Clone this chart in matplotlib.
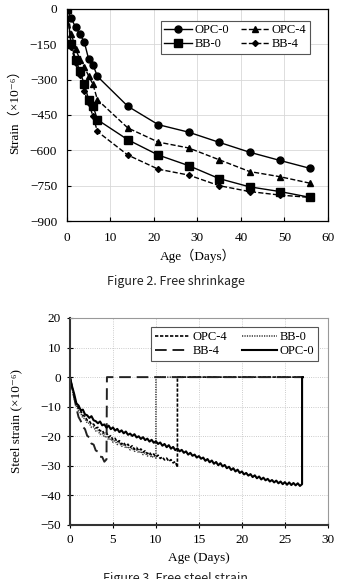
import numpy as np
import matplotlib
matplotlib.use('Agg')
import matplotlib.pyplot as plt

plt.rcParams['font.family'] = ['Liberation Serif', 'DejaVu Serif', 'Noto Sans CJK KR']

# ---- Figure 2 data: free shrinkage ----
days = [0, 1, 2, 3, 4, 5, 6, 7, 14, 21, 28, 35, 42, 49, 56]
opc0 = [0, -40, -78, -107, -141, -213, -237, -286, -413, -491, -523, -566, -608, -643, -677]
opc4 = [0, -105, -170, -215, -245, -285, -320, -385, -505, -565, -590, -640, -690, -712, -740]
bb0 = [0, -150, -215, -265, -320, -385, -410, -470, -555, -620, -665, -720, -755, -775, -800]
bb4 = [0, -160, -230, -280, -350, -400, -455, -520, -620, -680, -705, -750, -775, -790, -800]

# ---- Figure 3 data: steel strain, sampled every 0.25 day ----
dt = 0.25
end_day = 27.1
s_opc0 = [0, -3.2, -5.8, -8.9, -9.6, -11.2, -11.0, -12.6, -12.9, -13.8, -13.2, -14.6, -14.9,
          -15.6, -15.0, -16.3, -16.0, -17.1, -16.4, -17.6, -17.0, -18.1, -17.5, -18.6, -18.0,
          -19.0, -18.4, -19.5, -19.1, -19.9, -19.3, -20.4, -20.0, -20.9, -20.3, -21.3, -20.8,
          -21.8, -21.2, -22.2, -21.7, -22.6, -22.1, -23.2, -22.6, -23.7, -23.0, -24.2, -23.6,
          -24.7, -24.1, -25.1, -24.6, -25.6, -25.1, -26.2, -25.6, -26.6, -26.2, -27.2, -26.7,
          -27.6, -27.2, -28.3, -27.7, -28.8, -28.2, -29.3, -28.7, -29.8, -29.1, -30.2, -29.7,
          -30.8, -30.3, -31.4, -30.8, -31.9, -31.3, -32.4, -31.9, -32.9, -32.4, -33.3, -32.8,
          -33.8, -33.2, -34.2, -33.6, -34.6, -34.0, -34.9, -34.4, -35.3, -34.8, -35.6, -35.0,
          -35.9, -35.3, -36.2, -35.5, -36.4, -35.6, -36.5, -35.8, -36.6, -35.9, -36.8, -36.2]
s_opc4 = [0, -3.5, -6.5, -9.0, -10.6, -11.4, -12.9, -13.3, -14.6, -14.8, -16.0, -15.9, -17.2,
          -17.0, -18.2, -18.0, -19.2, -18.8, -20.3, -19.8, -21.2, -20.7, -22.0, -21.5, -22.7,
          -22.1, -23.3, -22.7, -23.8, -23.2, -24.4, -23.8, -24.9, -24.3, -25.4, -24.9, -25.9,
          -25.4, -26.5, -26.0, -27.0, -26.4, -27.5, -27.0, -28.0, -27.4, -28.5, -27.9, -29.0,
          -28.6, -30.5]
s_bb0 = [0, -4.0, -7.2, -9.8, -11.5, -12.2, -13.8, -14.1, -15.5, -15.6, -17.0, -16.8, -18.2,
         -18.0, -19.4, -19.0, -20.3, -19.9, -21.2, -20.8, -22.0, -21.5, -22.8, -22.2, -23.4,
         -22.9, -24.0, -23.5, -24.6, -24.0, -25.1, -24.6, -25.6, -25.1, -26.2, -25.6, -26.7,
         -26.1, -27.2, -26.6, -27.4]
s_bb4 = [0, -3.8, -7.0, -10.5, -13.5, -14.8, -16.8, -17.6, -19.8, -20.4, -22.5, -22.8, -24.8,
         -25.2, -26.9, -27.0, -28.6, -27.8]
fail_day = {'OPC-0': 27.0, 'OPC-4': 12.5, 'BB-0': 10.0, 'BB-4': 4.3}


def steel_line(vals, name):
    t = np.arange(len(vals)) * dt
    x = np.concatenate([t, [fail_day[name], end_day]])
    y = np.concatenate([vals, [0, 0]])
    return x, y


fig = plt.figure(figsize=(3.38, 5.79), dpi=100)

# ---------------- top panel ----------------
ax1 = fig.add_axes([0.198, 0.6183, 0.772, 0.3662])
l1, = ax1.plot(days, opc0, '-', color='black', lw=1, marker='o', ms=5, label='OPC-0')
l2, = ax1.plot(days, opc4, '--', color='black', lw=1, marker='^', ms=4.5, label='OPC-4')
l3, = ax1.plot(days, bb0, '-', color='black', lw=1, marker='s', ms=5.5, label='BB-0')
l4, = ax1.plot(days, bb4, '--', color='black', lw=1, marker='D', ms=3, label='BB-4')
ax1.set_xlim(0, 60)
ax1.set_ylim(-900, 0)
ax1.set_xticks(range(0, 61, 10))
ax1.set_yticks(range(-900, 1, 150))
ax1.grid(True, color='#d8d8d8', lw=0.6)
ax1.set_axisbelow(True)
ax1.tick_params(direction='in', labelsize=9.5, length=3)
ax1.tick_params(axis='x', pad=8)
ax1.tick_params(axis='y', pad=7)
for s in ax1.spines.values():
    s.set_linewidth(0.9)
ax1.set_xlabel('Age（Days）', fontsize=9.5, labelpad=3)
ax1.set_ylabel('Strain（×10⁻⁶）', fontsize=9.5)
ax1.yaxis.set_label_coords(-0.176, 0.53)
leg1 = ax1.legend(handles=[l1, l3, l2, l4], ncol=2, loc='upper right',
                  bbox_to_anchor=(0.955, 0.975), fontsize=9, frameon=True, fancybox=False,
                  edgecolor='#555555', framealpha=1, handlelength=2.2, handletextpad=0.2,
                  columnspacing=1.0, labelspacing=0.15, borderpad=0.3)
leg1.get_frame().set_linewidth(0.8)
fig.text(0.52, 1 - 281 / 579, 'Figure 2. Free shrinkage', ha='center', va='center',
         fontsize=9, family=['Noto Sans CJK KR', 'DejaVu Sans'], color='#222222')

# ---------------- bottom panel ----------------
ax2 = fig.add_axes([0.207, 0.0933, 0.763, 0.3575])
x, y = steel_line(s_opc4, 'OPC-4')
m1, = ax2.plot(x, y, color='black', lw=1.2, dashes=(2, 1), label='OPC-4')
x, y = steel_line(s_bb0, 'BB-0')
m2, = ax2.plot(x, y, color='#333333', lw=1.1, dashes=(0.8, 0.8), label='BB-0')
x, y = steel_line(s_bb4, 'BB-4')
m3, = ax2.plot(x, y, color='#222222', lw=1.4, dashes=(6, 3), label='BB-4')
x, y = steel_line(s_opc0, 'OPC-0')
m4, = ax2.plot(x, y, color='black', lw=1.5, label='OPC-0')
ax2.set_xlim(0, 30)
ax2.set_ylim(-50, 20)
ax2.set_xticks(range(0, 31, 5))
ax2.set_yticks(range(-50, 21, 10))
ax2.grid(True, color='#bbbbbb', lw=0.6, ls=':')
ax2.set_axisbelow(True)
ax2.tick_params(direction='inout', labelsize=9.5, length=5, pad=4)
ax2.spines['left'].set_linewidth(1.5)
ax2.spines['bottom'].set_linewidth(1.5)
ax2.spines['left'].set_color('#333333')
ax2.spines['bottom'].set_color('#333333')
ax2.spines['top'].set_color('#999999')
ax2.spines['right'].set_color('#999999')
ax2.set_xlabel('Age (Days)', fontsize=9.5, labelpad=4)
ax2.set_ylabel('Steel strain (×10⁻⁶)', fontsize=9.5)
ax2.yaxis.set_label_coords(-0.186, 0.5)
leg2 = ax2.legend(handles=[m1, m3, m2, m4], ncol=2, loc='upper right',
                  bbox_to_anchor=(0.985, 0.985), fontsize=9, frameon=True, fancybox=False,
                  edgecolor='#555555', framealpha=1, handlelength=2.8, handletextpad=0.2,
                  columnspacing=1.2, labelspacing=0.15, borderpad=0.3)
leg2.get_frame().set_linewidth(0.8)
fig.text(0.52, 1 - 572 / 579, 'Figure 3. Free steel strain', ha='center', va='top',
         fontsize=9, family=['Noto Sans CJK KR', 'DejaVu Sans'], color='#222222')

fig.savefig('out.png', dpi=100)
